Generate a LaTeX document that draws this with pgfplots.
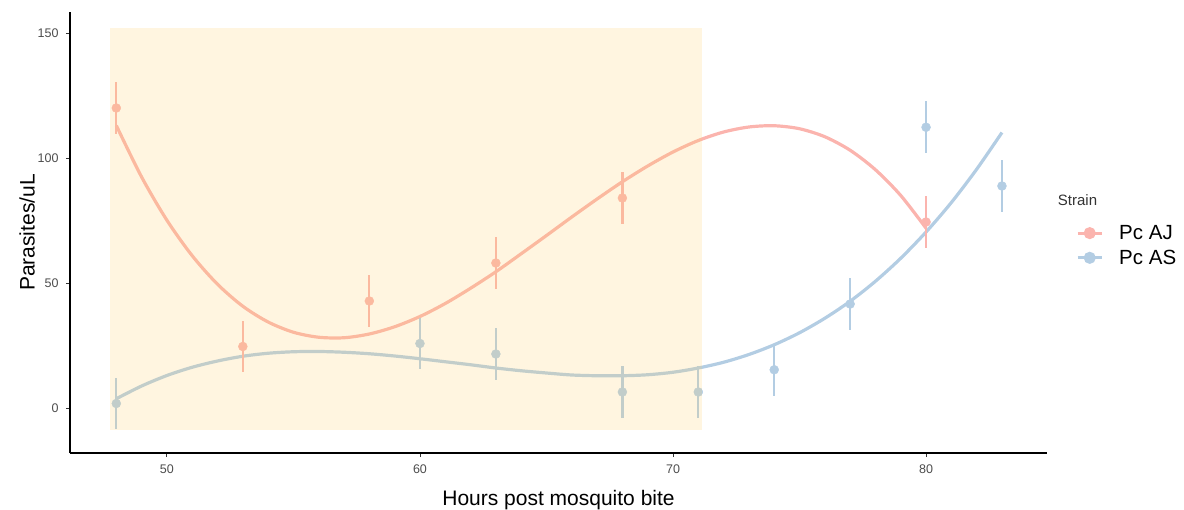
\documentclass[border=0pt]{standalone}
\usepackage{pgfplots}
\pgfplotsset{compat=1.18}
\usepackage{fontspec}
\setmainfont{Liberation Sans}
\definecolor{aj}{HTML}{FBB4AE}
\definecolor{as}{HTML}{B3CDE3}
\definecolor{band}{HTML}{FFCF66}
\definecolor{tickgray}{HTML}{4D4D4D}
\definecolor{tickline}{HTML}{333333}
\begin{document}
\begin{tikzpicture}
\path[use as bounding box] (-70bp,-57bp) rectangle (1114bp,453bp);
\begin{axis}[
 at={(0,0)}, anchor=south west,
 width=977bp, height=441bp, scale only axis,
 xmin=46.17, xmax=84.78, ymin=-18, ymax=158.4,
 clip=false, clip marker paths=true,
 axis lines=left, axis line style={-, line width=1.1bp, black},
 xtick={50,60,70,80}, ytick={0,50,100,150},
 tick align=outside, major tick length=4bp,
 tick style={line width=0.9bp, tickline},
 ticklabel style={font=\fontsize{12.5bp}{14bp}\selectfont, text=tickgray},
 xticklabel style={yshift=-4bp},
 yticklabel style={xshift=-4bp},
 /pgf/number format/assume math mode=true,
 xlabel={Hours post mosquito bite}, ylabel={Parasites/uL},
 label style={font=\fontsize{21bp}{24bp}\selectfont},
 xlabel style={at={(axis description cs:0.5,-0.1224)}, anchor=base, yshift=1.5bp},
 ylabel style={at={(axis description cs:-0.044,0.5)}, anchor=center},
 legend style={at={(1.0297,0.519)}, anchor=north west, draw=none, fill=none,
   font=\fontsize{20.5bp}{22bp}\selectfont, inner sep=0pt, row sep=7bp,
   nodes={inner xsep=10bp, inner ysep=1bp},
   /tikz/every odd column/.style={column sep=6bp}},
 legend cell align=left,
 legend image code/.code={\draw[mark repeat=2,mark phase=2,#1] plot coordinates {(0bp,0bp) (12bp,0bp) (24bp,0bp)};},
]
% fitted curves
\addplot[forget plot, aj, line width=3.2bp, smooth] coordinates {
(48,113.0) (49,92.4) (50,75.1) (51,60.9) (52,49.5) (53,40.7) (54,34.4) (55,30.3)
(56,28.3) (57,28.1) (58,29.6) (59,32.5) (60,36.6) (61,41.8) (62,47.9) (63,54.5)
(64,61.7) (65,69.0) (66,76.4) (67,83.6) (68,90.5) (69,96.8) (70,102.4) (71,107.0)
(72,110.4) (73,112.4) (74,112.9) (75,111.7) (76,108.5) (77,103.1) (78,95.3) (79,85.0) (80,71.9)};
\addplot[forget plot, as, line width=3.2bp, smooth] coordinates {
(48,3.7) (49,8.8) (50,13.0) (51,16.3) (52,18.8) (53,20.7) (54,21.9) (55,22.5)
(56,22.6) (57,22.3) (58,21.7) (59,20.8) (60,19.7) (61,18.5) (62,17.3) (63,16.0)
(64,14.9) (65,14.0) (66,13.2) (67,12.9) (68,12.9) (69,13.3) (70,14.3) (71,16.0)
(72,18.3) (73,21.4) (74,25.3) (75,30.1) (76,35.9) (77,42.7) (78,50.7) (79,59.9)
(80,70.4) (81,82.2) (82,95.5) (83,110.2)};
% points with error bars
\addplot[forget plot, aj, only marks, mark=*, mark size=4.5bp, mark options={fill=aj, draw=aj},
 error bars/.cd, y dir=both, y explicit, error mark=none,
 error bar style={line width=2.2bp, aj}] coordinates {
(48,120) +- (0,10.3)
(53,24.6) +- (0,10.3)
(58,42.8) +- (0,10.3)
(63,58) +- (0,10.3)
(68,84) +- (0,10.3)
(80,74.4) +- (0,10.3)};
\addplot[forget plot, as, only marks, mark=*, mark size=4.5bp, mark options={fill=as, draw=as},
 error bars/.cd, y dir=both, y explicit, error mark=none,
 error bar style={line width=2.2bp, as}] coordinates {
(48,1.8) +- (0,10.3)
(60,25.8) +- (0,10.3)
(63,21.6) +- (0,10.3)
(68,6.4) +- (0,10.3)
(71,6.4) +- (0,10.3)
(74,15.3) +- (0,10.3)
(77,41.6) +- (0,10.3)
(80,112.3) +- (0,10.3)
(83,88.8) +- (0,10.3)};
% shaded window drawn on top
\addplot[forget plot, draw=none, fill=band, fill opacity=0.2] coordinates {
(47.75,-8.8) (71.15,-8.8) (71.15,152) (47.75,152)} -- cycle;
% legend
\addlegendimage{aj, line width=3bp, mark=*, mark size=4.5bp, mark options={fill=aj, draw=aj}}
\addlegendentry{Pc AJ}
\addlegendimage{as, line width=3bp, mark=*, mark size=4.5bp, mark options={fill=as, draw=as}}
\addlegendentry{Pc AS}
\node[anchor=west, font=\fontsize{15bp}{17bp}\selectfont, text=tickline, inner sep=0pt]
  at (axis description cs:1.011,0.574) {Strain};
\end{axis}
\end{tikzpicture}
\end{document}
